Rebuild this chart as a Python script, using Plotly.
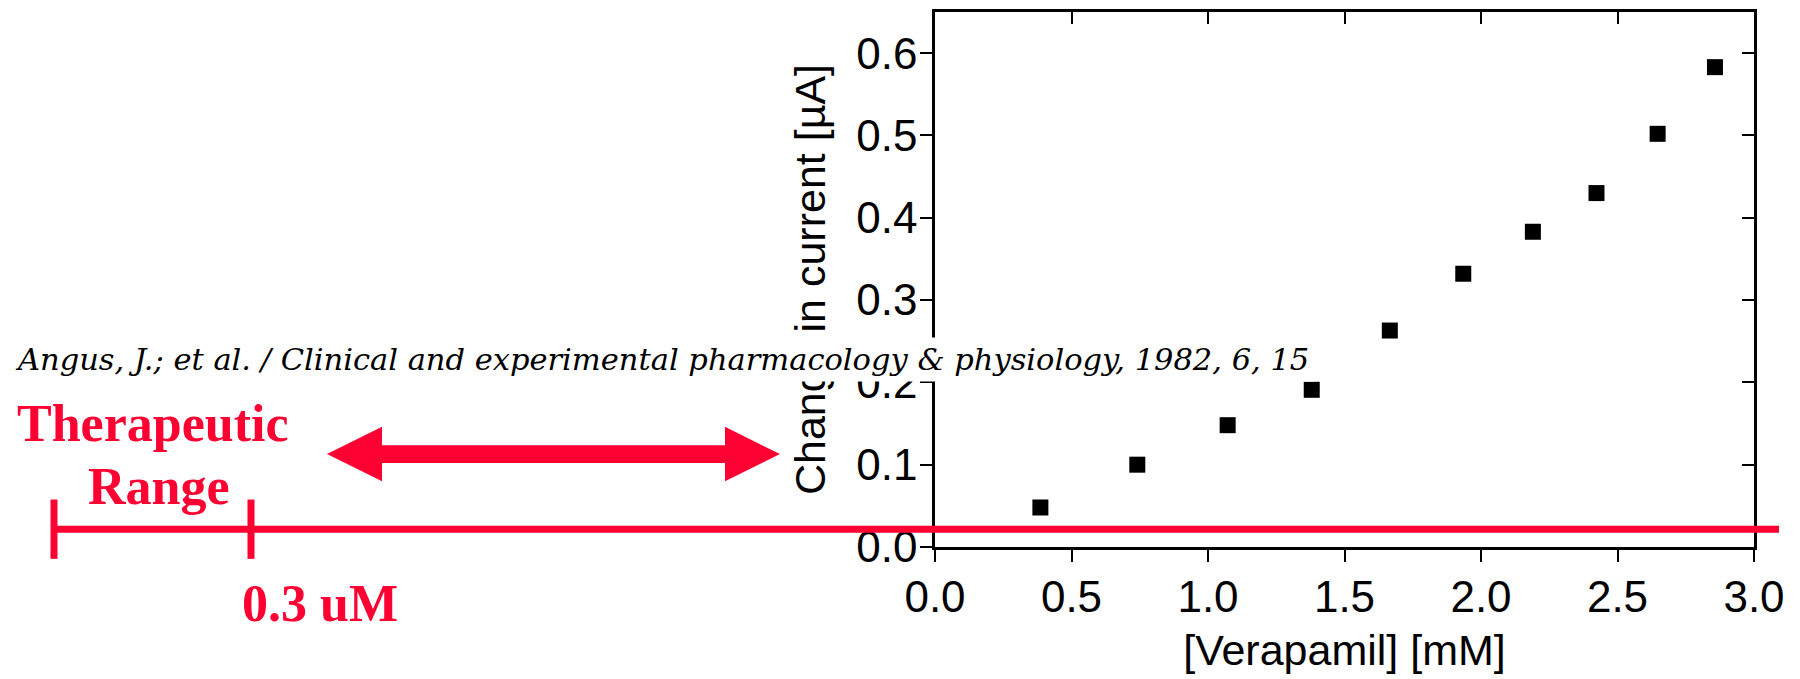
import plotly.graph_objects as go

# ---- data ----
verapamil_mM = [0.386, 0.741, 1.072, 1.380, 1.666, 1.935, 2.190, 2.423, 2.647, 2.857]
current_uA = [0.048, 0.100, 0.148, 0.191, 0.263, 0.332, 0.383, 0.430, 0.502, 0.583]
x_ticks = [0.0, 0.5, 1.0, 1.5, 2.0, 2.5, 3.0]
x_tick_text = ["0.0", "0.5", "1.0", "1.5", "2.0", "2.5", "3.0"]
y_ticks = [0.0, 0.1, 0.2, 0.3, 0.4, 0.5, 0.6]
y_tick_text = ["0.0", "0.1", "0.2", "0.3", "0.4", "0.5", "0.6"]
citation = "Angus, J.; et al. / Clinical and experimental pharmacology &amp; physiology, 1982, 6, 15"
range_label = ["Therapeutic", "Range"]
dose_label = "0.3 uM"

W, H = 1800, 679
L, R, T, B = 935, 1754, 12, 553  # plot area in pixels
RED = "#FF0033"


def px(x):
    return (x - L) / (R - L)


def py(y):
    return (B - y) / (B - T)


fig = go.Figure()
fig.add_trace(go.Scatter(
    x=verapamil_mM, y=current_uA, mode="markers",
    marker=dict(symbol="square", size=16, color="black", line=dict(width=0)),
    showlegend=False, cliponaxis=False,
))
# invisible trace on mirrored axes for inward ticks
fig.add_trace(go.Scatter(x=[None], y=[None], xaxis="x2", yaxis="y2", showlegend=False))

tickfont = dict(family="Liberation Sans, Arial", size=44, color="black")
titlefont = dict(family="Liberation Sans, Arial", size=43, color="black")
fig.update_layout(
    width=W, height=H,
    margin=dict(l=L, r=W - R, t=T, b=H - B),
    paper_bgcolor="white", plot_bgcolor="white",
    xaxis=dict(range=[0, 3.0], tickvals=x_ticks, ticktext=x_tick_text,
               ticks="outside", ticklen=12, tickwidth=2, tickcolor="black",
               showline=True, linewidth=2.5, linecolor="black", showgrid=False, zeroline=False,
               tickfont=tickfont, ticklabelstandoff=-3,
               title=dict(text="[Verapamil] [mM]", font=titlefont, standoff=16)),
    yaxis=dict(range=[0, 0.65], tickvals=y_ticks, ticktext=y_tick_text,
               ticks="outside", ticklen=12, tickwidth=2, tickcolor="black",
               showline=True, linewidth=2.5, linecolor="black", showgrid=False, zeroline=False,
               tickfont=tickfont, ticklabelstandoff=-6,
               title=dict(text="Change in current [µA]", font=titlefont, standoff=18)),
    xaxis2=dict(overlaying="x", side="top", range=[0, 3.0], tickvals=x_ticks,
                ticks="inside", ticklen=12, tickwidth=2, tickcolor="black",
                showticklabels=False, showline=True, linewidth=2.5, linecolor="black",
                showgrid=False, zeroline=False),
    yaxis2=dict(overlaying="y", side="right", range=[0, 0.65], tickvals=y_ticks,
                ticks="inside", ticklen=12, tickwidth=2, tickcolor="black",
                showticklabels=False, showline=True, linewidth=2.5, linecolor="black",
                showgrid=False, zeroline=False),
)

# ---- red overlay: therapeutic range scale ----
shapes = []
shapes.append(dict(type="line", xref="paper", yref="paper", layer="above",
                   x0=px(52), x1=px(1779), y0=py(535), y1=py(535),
                   line=dict(color=RED, width=7)))
for tx in (54, 251):
    shapes.append(dict(type="line", xref="paper", yref="paper", layer="above",
                       x0=px(tx), x1=px(tx), y0=py(505), y1=py(565),
                       line=dict(color=RED, width=7)))
# double-headed arrow
ax0, ax1, ay, head_len, head_half, shaft_half = 327, 780, 459, 55, 27.5, 9
pts = [(ax0, ay), (ax0 + head_len, ay - head_half), (ax0 + head_len, ay - shaft_half),
       (ax1 - head_len, ay - shaft_half), (ax1 - head_len, ay - head_half), (ax1, ay),
       (ax1 - head_len, ay + head_half), (ax1 - head_len, ay + shaft_half),
       (ax0 + head_len, ay + shaft_half), (ax0 + head_len, ay + head_half)]
path = "M " + " L ".join(f"{px(a):.5f},{py(b):.5f}" for a, b in pts) + " Z"
shapes.append(dict(type="path", xref="paper", yref="paper", layer="above", path=path,
                   fillcolor=RED, line=dict(color=RED, width=0)))
fig.update_layout(shapes=shapes)

redfont = dict(family="Liberation Serif, Times New Roman", size=52, color=RED, weight="bold")
fig.add_annotation(text=range_label[0], xref="paper", yref="paper", x=px(153), y=py(428),
                   showarrow=False, font=redfont, xanchor="center", yanchor="middle")
fig.add_annotation(text=range_label[1], xref="paper", yref="paper", x=px(159), y=py(492),
                   showarrow=False, font=redfont, xanchor="center", yanchor="middle")
fig.add_annotation(text=dose_label, xref="paper", yref="paper", x=px(320), y=py(610),
                   showarrow=False, font=redfont, xanchor="center", yanchor="middle")

fig.add_annotation(text=citation, xref="paper", yref="paper", x=px(10), y=py(363),
                   showarrow=False, xanchor="left", yanchor="middle",
                   font=dict(family="DejaVu Serif", size=30.5, color="black", style="italic"),
                   bgcolor="white", borderpad=4)

fig.write_html("out.html")
